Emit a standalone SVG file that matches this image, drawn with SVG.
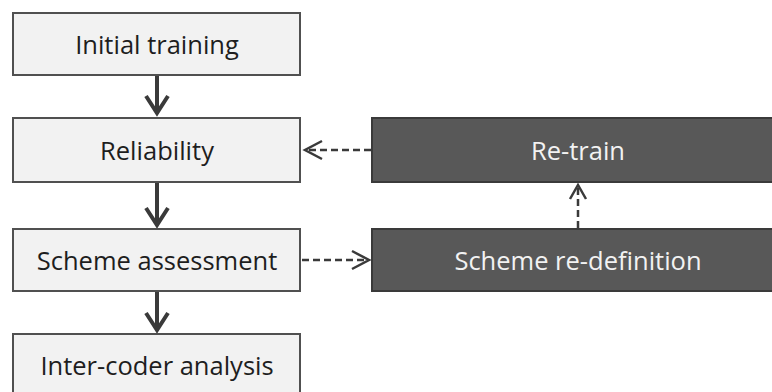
<svg xmlns="http://www.w3.org/2000/svg" width="772" height="392" viewBox="0 0 772 392">
<style>
.lb{fill:#f2f2f2;stroke:#505050;stroke-width:2}
.db{fill:#585858;stroke:#3a3a3a;stroke-width:2}
.t{font-family:"Open Sans","Noto Sans",sans-serif;font-size:25.5px;text-anchor:middle;dominant-baseline:central}
.tl{fill:#1e1e1e}
.td{fill:#f2f2f2}
.s{stroke:#3a3a3a;stroke-width:4;fill:none;stroke-linejoin:miter}
.h{stroke:#3a3a3a;stroke-width:4;fill:none;stroke-linejoin:miter}
.d{stroke:#3a3a3a;stroke-width:2.5;fill:none;stroke-dasharray:7 4}
.hd{stroke:#3a3a3a;stroke-width:2.5;fill:none}
</style>
<rect width="772" height="392" fill="#ffffff"/>
<g id="connectors">
<line class="s" x1="157" y1="76" x2="157" y2="112"/>
<path class="h" d="M146,96 L157,113 L168,96"/>
<line class="s" x1="157" y1="183" x2="157" y2="224"/>
<path class="h" d="M146,208 L157,225 L168,208"/>
<line class="s" x1="157" y1="292" x2="157" y2="329"/>
<path class="h" d="M146,313 L157,330 L168,313"/>
<line class="d" x1="371" y1="150" x2="306" y2="150"/>
<path class="hd" d="M322,141 L305,150 L322,159"/>
<line class="d" x1="302" y1="260" x2="368" y2="260"/>
<path class="hd" d="M352,251 L369,260 L352,269"/>
<line class="d" x1="578" y1="228" x2="578" y2="186"/>
<path class="hd" d="M570,199 L578,185 L586,199"/>
</g>
<g id="n1"><rect class="lb" x="13" y="13" width="287" height="62"/><text class="t tl" x="157" y="44">Initial training</text></g>
<g id="n2"><rect class="lb" x="13" y="118" width="287" height="64"/><text class="t tl" x="157" y="150">Reliability</text></g>
<g id="n3"><rect class="lb" x="13" y="229" width="287" height="62"/><text class="t tl" x="157" y="260">Scheme assessment</text></g>
<g id="n4"><rect class="lb" x="13" y="334" width="287" height="70"/><text class="t tl" x="157" y="365">Inter-coder analysis</text></g>
<g id="n5"><rect class="db" x="372" y="118" width="420" height="64"/><text class="t td" x="578" y="150">Re-train</text></g>
<g id="n6"><rect class="db" x="372" y="229" width="420" height="62"/><text class="t td" x="578" y="260">Scheme re-definition</text></g>
</svg>
